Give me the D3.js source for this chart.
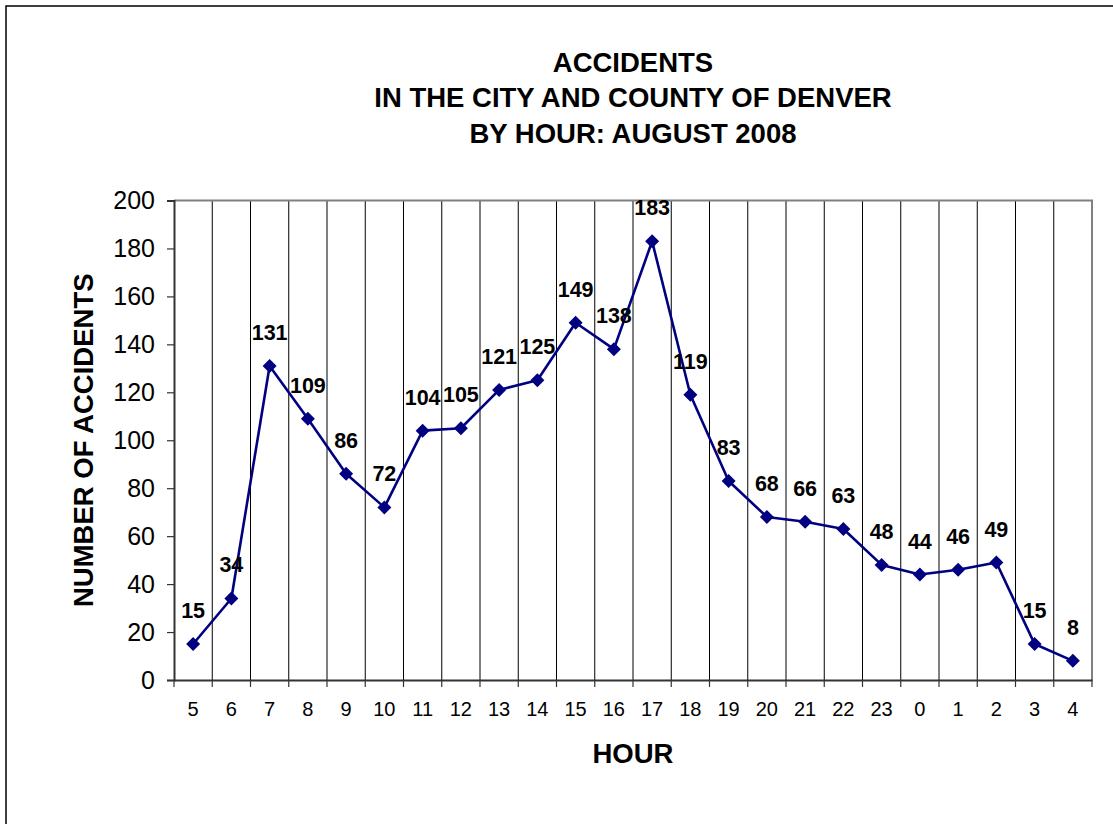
<!DOCTYPE html>
<html><head><meta charset="utf-8">
<script src="https://cdn.jsdelivr.net/npm/d3@7"></script>
<style>body{margin:0;background:#fff;} svg{display:block;}</style>
</head><body>
<svg id="c" width="1113" height="824"></svg>
<script>
const hours = ["5","6","7","8","9","10","11","12","13","14","15","16","17","18","19","20","21","22","23","0","1","2","3","4"];
const accidents = [15,34,131,109,86,72,104,105,121,125,149,138,183,119,83,68,66,63,48,44,46,49,15,8];
const yTicks = [0,20,40,60,80,100,120,140,160,180,200];
const titleLines = ["ACCIDENTS","IN THE CITY AND COUNTY OF DENVER","BY HOUR: AUGUST 2008"];

const svg = d3.select("#c");
const L = 174, R = 1092, T = 200.5, B = 680;
const font = "Arial, 'Liberation Sans', sans-serif";

svg.append("rect").attr("x",6).attr("y",6).attr("width",1130).attr("height",840)
  .attr("fill","#fff").attr("stroke","#000").attr("stroke-width",1.5);

const x = d3.scaleBand().domain(hours).range([L,R]).paddingInner(0).paddingOuter(0);
const y = d3.scaleLinear().domain([0,200]).range([B,T]);

// vertical gridlines at category boundaries
const bounds = hours.map(h => x(h)).slice(1);
svg.append("g").selectAll("line").data(bounds).join("line")
  .attr("x1",d=>d).attr("x2",d=>d).attr("y1",T).attr("y2",B)
  .attr("stroke","#000").attr("stroke-width",1);

// plot border top/right
svg.append("path").attr("d",`M${L},${T}H${R}V${B}`).attr("fill","none")
  .attr("stroke","#808080").attr("stroke-width",2);

// y axis
const yAxis = d3.axisLeft(y).tickValues(yTicks).tickSize(7).tickPadding(12);
const gy = svg.append("g").attr("transform",`translate(${L},0)`).call(yAxis);
gy.select(".domain").attr("stroke","#333").attr("stroke-width",2);
gy.selectAll(".tick line").attr("stroke","#333").attr("stroke-width",1.2);
gy.selectAll(".tick text").attr("font-family",font).attr("font-size",25).attr("fill","#000");

// x axis
const xAxis = d3.axisBottom(x).tickSize(0).tickPadding(22);
const gx = svg.append("g").attr("transform",`translate(0,${B})`).call(xAxis);
gx.select(".domain").attr("stroke","#333").attr("stroke-width",2);
gx.selectAll(".tick text").attr("font-family",font).attr("font-size",20).attr("fill","#000");
// x tick marks at boundaries
const allBounds = hours.map(h => x(h)).concat([R]);
svg.append("g").selectAll("line").data(allBounds).join("line")
  .attr("x1",d=>d).attr("x2",d=>d).attr("y1",B).attr("y2",B+7)
  .attr("stroke","#333").attr("stroke-width",1.2);

// line
const cx = h => x(h) + x.bandwidth()/2;
const line = d3.line().x((d,i)=>cx(hours[i])).y(d=>y(d));
svg.append("path").datum(accidents).attr("d",line).attr("fill","none")
  .attr("stroke","#000080").attr("stroke-width",2.6).attr("stroke-linejoin","round");

// markers
svg.append("g").selectAll("path").data(accidents).join("path")
  .attr("d",d3.symbol().type(d3.symbolSquare).size(98))
  .attr("transform",(d,i)=>`translate(${cx(hours[i])},${y(d)}) rotate(45)`)
  .attr("fill","#000080");

// data labels
svg.append("g").selectAll("text").data(accidents).join("text")
  .attr("x",(d,i)=>cx(hours[i])).attr("y",d=>y(d)-26)
  .attr("text-anchor","middle").attr("font-family",font).attr("font-weight","bold")
  .attr("font-size",21.5).attr("fill","#000").text(d=>d);

// title
svg.append("g").selectAll("text").data(titleLines).join("text")
  .attr("x",(L+R)/2).attr("y",(d,i)=>71.5+i*35.5).attr("text-anchor","middle")
  .attr("font-family",font).attr("font-weight","bold").attr("font-size",27.5).text(d=>d);

// axis titles
svg.append("text").attr("x",(L+R)/2).attr("y",763).attr("text-anchor","middle")
  .attr("font-family",font).attr("font-weight","bold").attr("font-size",27.5).text("HOUR");
svg.append("text").attr("transform",`translate(93,${(T+B)/2}) rotate(-90)`)
  .attr("text-anchor","middle").attr("font-family",font).attr("font-weight","bold")
  .attr("font-size",27.5).text("NUMBER OF ACCIDENTS");
</script>
</body></html>
